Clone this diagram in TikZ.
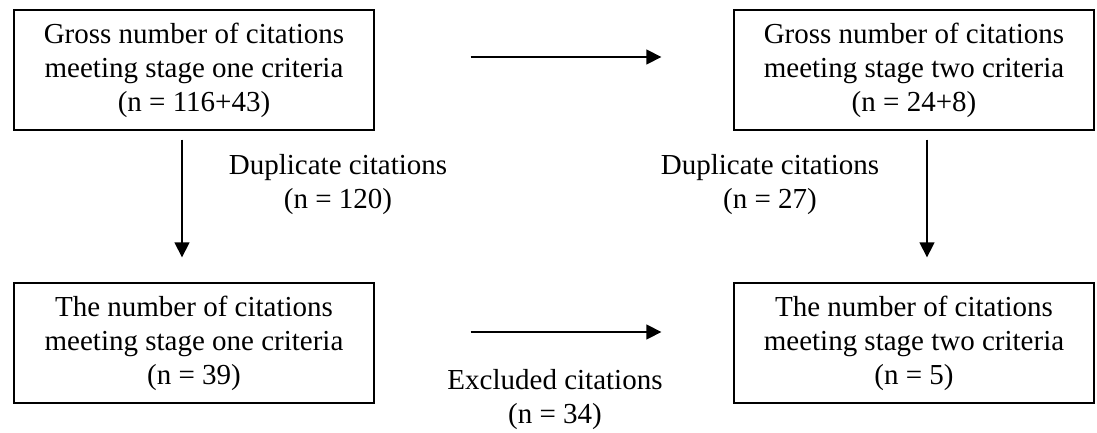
\documentclass[tikz,border=0pt]{standalone}
\usepackage{fontspec}
\setmainfont{Liberation Serif}
\usetikzlibrary{arrows.meta}

\tikzset{
    citebox/.style={draw=black, line width=1.3pt, minimum width=360pt, minimum height=120pt, align=center, inner sep=0pt, font=\fontsize{29}{34}\selectfont},
    citelabel/.style={align=center, inner sep=0pt, font=\fontsize{29}{34}\selectfont},
    flow/.style={black, line width=1.3pt, -{Triangle[length=15pt,width=15pt]}}
}

\begin{document}
\begin{tikzpicture}[x=1pt, y=1pt]
            \useasboundingbox (0,0) rectangle (1097,432);

            \node[citebox] (gross1) at (194,362) {Gross number of citations\\meeting stage one criteria\\(n = 116+43)};
            \node[citebox] (gross2) at (914,362) {Gross number of citations\\meeting stage two criteria\\(n = 24+8)};
            \node[citebox] (net1) at (194,89) {The number of citations\\meeting stage one criteria\\(n = 39)};
            \node[citebox] (net2) at (914,89) {The number of citations\\meeting stage two criteria\\(n = 5)};

            \node[citelabel] (dup1) at (338,247) {Duplicate citations\\(n = 120)};
            \node[citelabel] (dup2) at (770,247) {Duplicate citations\\(n = 27)};
            \node[citelabel] (excl) at (555,32) {Excluded citations\\(n = 34)};

            \draw[flow, shorten <=96pt, shorten >=72pt] ([yshift=13pt]gross1.east) -- ([yshift=13pt]gross2.west);
            \draw[flow, shorten <=96pt, shorten >=72pt] ([yshift=11pt]net1.east) -- ([yshift=11pt]net2.west);
            \draw[flow, shorten <=9pt, shorten >=25pt] ([xshift=-12pt]gross1.south) -- ([xshift=-12pt]net1.north);
            \draw[flow, shorten <=9pt, shorten >=25pt] ([xshift=13pt]gross2.south) -- ([xshift=13pt]net2.north);
        \end{tikzpicture}
\end{document}
